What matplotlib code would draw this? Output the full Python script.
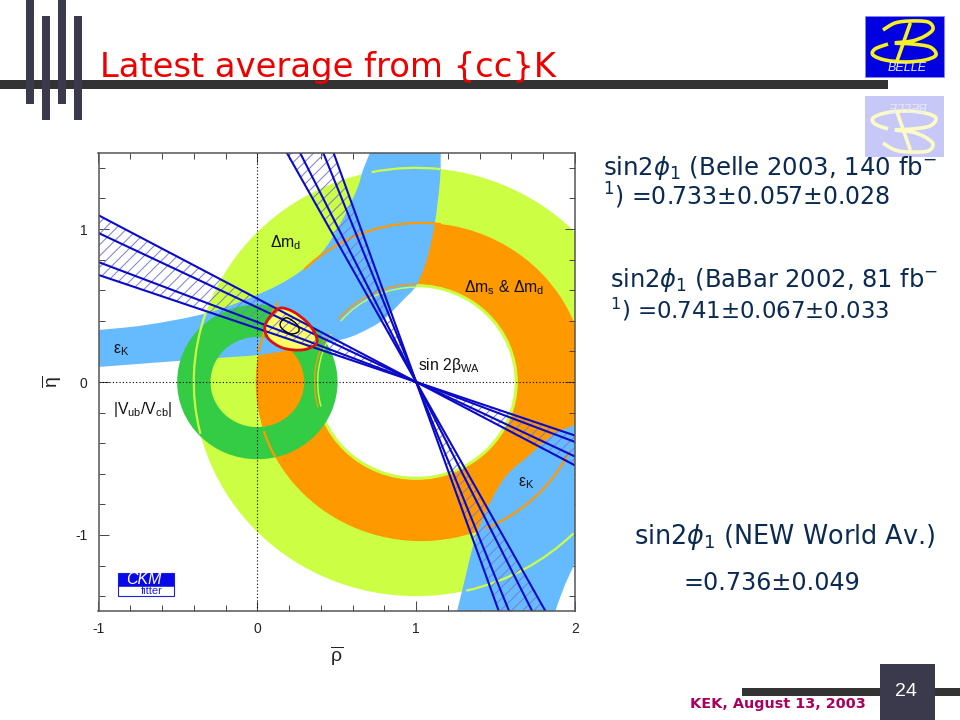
import numpy as np
import matplotlib
matplotlib.use("Agg")
import matplotlib.pyplot as plt
from matplotlib.patches import Circle, Wedge, Polygon, Rectangle, PathPatch, Arc
from matplotlib.path import Path

plt.rcParams['font.family'] = ['Liberation Sans', 'DejaVu Sans']
plt.rcParams['mathtext.fontset'] = 'custom'
plt.rcParams['mathtext.rm'] = 'Liberation Sans'
plt.rcParams['mathtext.it'] = 'Liberation Sans:italic'
plt.rcParams['mathtext.bf'] = 'Liberation Sans:bold'
plt.rcParams['hatch.linewidth'] = 0.7

# ---------- data ----------
CENTER = (1.0, 0.0)
DMD_OUTER = 1.40
DMS_CENTER = (1.03, 0.0)
DMS_OUTER = 1.04
RING_IN_OUTER = 0.64
RING_IN_INNER = 0.62
VUB_OUTER = 0.505
VUB_INNER = 0.295

eps_upper_rho = [-1.0, -0.70, -0.32, 0.0, 0.225, 0.40, 0.52, 0.625, 0.665, 0.71]
eps_upper_eta = [0.34, 0.373, 0.45, 0.57, 0.69, 0.84, 1.03, 1.255, 1.385, 1.5]
eps_lower_rho = [-1.0, -0.70, -0.28, 0.0, 0.205, 0.52, 0.645, 0.79, 0.917, 1.0, 1.067, 1.118, 1.15, 1.155]
eps_lower_eta = [0.098, 0.122, 0.155, 0.176, 0.21, 0.275, 0.32, 0.405, 0.535, 0.63, 0.80, 1.04, 1.32, 1.5]
eps2_left_rho = [1.257, 1.295, 1.37, 1.465, 1.57, 1.70, 1.86, 2.0]
eps2_left_eta = [-1.5, -1.34, -1.03, -0.79, -0.61, -0.49, -0.346, -0.28]
eps2_right_rho = [2.0, 1.935, 1.875]
eps2_right_eta = [-1.185, -1.33, -1.5]

shallow_slopes = [0.545, 0.487, 0.392, 0.35]
steep_slopes = [1.84, 2.05, 2.56, 2.88]

red_rho = [0.047, 0.08, 0.142, 0.225, 0.31, 0.362, 0.373, 0.31, 0.225, 0.142, 0.067]
red_eta = [0.36, 0.427, 0.483, 0.46, 0.394, 0.32, 0.255, 0.215, 0.21, 0.23, 0.287]
black_rho = [0.145, 0.185, 0.25, 0.26, 0.21, 0.155]
black_eta = [0.385, 0.42, 0.375, 0.33, 0.315, 0.35]

lime_arcs = [(83.8, 101.5), (161, 194), (283, 315)]
orange_arcs = [(83, 135), (150, 169), (198, 208), (293, 334)]
inner_arcs = [(90, 140), (150, 195)]

x_ticks = [-1, 0, 1, 2]
y_ticks = [-1, 0, 1]

LIME = '#ccff44'
ORANGE = '#ff9900'
BLUE = '#66bbff'
GREEN = '#33cc44'
NAVY = '#0a0ac8'
HATCH = '#7a7ad8'
TXT = '#0b2a52'
DARK = '#333333'
STRIPE = '#3a3a4c'


def bezier_segments(p, closed=False):
    """Cubic segments passing through every point p (Catmull-Rom handles)."""
    p = np.asarray(p, float)
    n = len(p)
    out = []
    last = n if closed else n - 1
    for i in range(last):
        a = p[(i - 1) % n] if (closed or i > 0) else p[i]
        b = p[i]
        c = p[(i + 1) % n]
        d = p[(i + 2) % n] if (closed or i + 2 < n) else c
        out += [b + (c - a) / 6, c - (d - b) / 6, c]
    return out


def closed_path(xs, ys):
    p = np.column_stack([xs, ys])
    seg = bezier_segments(p, closed=True)
    return Path([p[0]] + seg, [Path.MOVETO] + [Path.CURVE4] * len(seg))


def band_path(x1, y1, x2, y2):
    """Region between two smooth edges: edge 1 forward, straight join, edge 2 onward."""
    p1 = np.column_stack([x1, y1])
    p2 = np.column_stack([x2, y2])
    s1 = bezier_segments(p1)
    s2 = bezier_segments(p2)
    verts = [p1[0]] + s1 + [p2[0]] + s2 + [p1[0]]
    codes = [Path.MOVETO] + [Path.CURVE4] * len(s1) + [Path.LINETO] + [Path.CURVE4] * len(s2) + [Path.CLOSEPOLY]
    return Path(verts, codes)


fig = plt.figure(figsize=(9.6, 7.2), dpi=100, facecolor='white')

# ---------- slide furniture, in pixel coordinates ----------
ov = fig.add_axes([0, 0, 1, 1], zorder=0)
ov.set_xlim(0, 960)
ov.set_ylim(720, 0)
ov.axis('off')

ov.add_patch(Rectangle((0, 80), 888, 9, color=DARK, lw=0))
for x0, y0, y1 in [(26, 0, 104), (42, 16, 120), (58, 0, 104), (74, 16, 120)]:
    ov.add_patch(Rectangle((x0, y0), 8, y1 - y0, color=STRIPE, lw=0))
ov.text(100, 77, 'Latest average from {cc}K', color='#ee0000', fontsize=24.3,
        family='DejaVu Sans', ha='left', va='baseline')

# logos: the swooping B emblem and its faded reflection
logo_x = [883, 895, 910, 928, 933, 925, 912, 895, 912, 930, 936, 925, 905, 885, 873, 875, 888]
logo_y = [30, 23, 21, 22, 29, 36, 41, 43, 44, 47, 55, 60, 62, 60, 55, 49, 44]
stem_x = [910, 897]
stem_y = [24, 61]


def emblem(ys, stem, colour):
    p = np.column_stack([logo_x, ys])
    seg = bezier_segments(p)
    ov.add_patch(PathPatch(Path([p[0]] + seg, [Path.MOVETO] + [Path.CURVE4] * len(seg)),
                           facecolor='none', edgecolor=colour, lw=2.6))
    ov.plot(stem_x, stem, color=colour, lw=2.6, solid_capstyle='round')


ov.add_patch(Rectangle((865, 16), 79, 61, facecolor='#0000e0', edgecolor='#8888ff', lw=0.5))
emblem(logo_y, stem_y, '#f5f020')
ov.text(907, 68, 'BELLE', color='#e8e8ff', fontsize=9, style='italic', ha='center', va='center')
ov.add_patch(Rectangle((865, 96), 79, 61, facecolor='#c8c8f8', edgecolor='none'))
emblem([173 - y for y in logo_y], [173 - y for y in stem_y], '#fbfbc8')
ov.text(907, 105, 'BELLE', color='#e8e8ff', fontsize=9, style='italic', ha='center', va='center',
        rotation=180)

# footer
ov.add_patch(Rectangle((742, 688), 218, 8, color=DARK, lw=0))
ov.add_patch(Rectangle((880, 664), 55, 56, color=STRIPE, lw=0))
ov.text(906, 692, '24', color='white', fontsize=14, ha='center', va='center')
ov.text(690, 708, 'KEK, August 13, 2003', color='#a8005c', fontsize=10.4, weight='bold',
        family='DejaVu Sans', ha='left', va='baseline')


# right hand text
def body(x, y, s, size):
    ov.text(x, y, s, color=TXT, fontsize=size, family='DejaVu Sans',
            math_fontfamily='dejavusans', ha='left', va='baseline')


body(603, 175, 'sin2$\\phi_1$ (Belle 2003, 140 fb$^{-}$', 17.6)
body(603, 205, '$^{1}$) =0.733\u00b10.057\u00b10.028', 17.0)
body(610, 287, 'sin2$\\phi_1$ (BaBar 2002, 81 fb$^{-}$', 17.4)
body(610, 318, '$^{1}$) =0.741\u00b10.067\u00b10.033', 16.5)
body(634, 544, 'sin2$\\phi_1$ (NEW World Av.)', 18.4)
body(683, 590, '=0.736\u00b10.049', 17.2)

# ---------- the CKM plot ----------
ax = fig.add_axes([98.5 / 960, (720 - 611) / 720, 476.5 / 960, 458 / 720], zorder=1)
ax.set_xlim(-1, 2)
ax.set_ylim(-1.497, 1.497)

ax.add_patch(Circle(CENTER, DMD_OUTER, color=LIME, lw=0, zorder=1))
ax.add_patch(Circle(DMS_CENTER, DMS_OUTER, color=ORANGE, lw=0, zorder=1.1))
ax.add_patch(Circle(CENTER, RING_IN_OUTER, color=LIME, lw=0, zorder=1.2))
ax.add_patch(Circle(CENTER, RING_IN_INNER, color='white', lw=0, zorder=1.3))

# epsilon_K bands
ax.add_patch(PathPatch(band_path(eps_upper_rho, eps_upper_eta, eps_lower_rho[::-1], eps_lower_eta[::-1]),
                       facecolor=BLUE, edgecolor='none', zorder=2))
ax.add_patch(PathPatch(band_path(eps2_left_rho, eps2_left_eta, eps2_right_rho, eps2_right_eta),
                       facecolor=BLUE, edgecolor='none', zorder=2))

# Vub/Vcb ring
ax.add_patch(Wedge((0, 0), VUB_OUTER, 0, 360, width=VUB_OUTER - VUB_INNER,
                   color=GREEN, lw=0, zorder=3))

# thin contours crossing the bands
for t1, t2 in lime_arcs:
    ax.add_patch(Arc(CENTER, 2 * DMD_OUTER, 2 * DMD_OUTER, theta1=t1, theta2=t2,
                     color=LIME, lw=1.6, zorder=3.5))
for t1, t2 in orange_arcs:
    ax.add_patch(Arc(DMS_CENTER, 2 * DMS_OUTER, 2 * DMS_OUTER, theta1=t1, theta2=t2,
                     color=ORANGE, lw=1.6, zorder=3.5))
for t1, t2 in inner_arcs:
    ax.add_patch(Arc(CENTER, 2 * RING_IN_INNER, 2 * RING_IN_INNER, theta1=t1, theta2=t2,
                     color=LIME, lw=1.0, zorder=3.5))
    ax.add_patch(Arc(CENTER, 2 * RING_IN_OUTER, 2 * RING_IN_OUTER, theta1=t1, theta2=t2,
                     color=ORANGE, lw=1.0, zorder=3.5))

# global fit region
red_path = closed_path(red_rho, red_eta)
ax.add_patch(PathPatch(red_path, facecolor='#ffff66', edgecolor='none', zorder=4))


# sin 2 beta fans
def fan(slopes, far):
    s = [slopes[0], slopes[-1]]
    for side in (-1, 1):
        pts = [CENTER] + [far(m, side) for m in s]
        ax.add_patch(Polygon(pts, closed=True, facecolor='none', edgecolor=HATCH,
                             hatch='///', lw=0, zorder=4.5))
    for m in slopes:
        for side in (-1, 1):
            p = far(m, side)
            ax.plot([CENTER[0], p[0]], [CENTER[1], p[1]], color=NAVY, lw=1.5, zorder=5)


fan(shallow_slopes, lambda m, side: (1 + 2 * side if side < 0 else 2,
                                     2 * m if side < 0 else -m))
fan(steep_slopes, lambda m, side: (1 + side * 1.5 / m, -side * 1.5))

ax.add_patch(PathPatch(red_path, facecolor='none', edgecolor='#dd1111', lw=2.0, zorder=6))
ax.add_patch(PathPatch(closed_path(black_rho, black_eta), facecolor='none',
                       edgecolor='black', lw=1.0, zorder=6))

ax.axvline(0, color='black', ls=(0, (1, 2)), lw=0.8, zorder=7)
ax.axhline(0, color='black', ls=(0, (1, 2)), lw=0.8, zorder=7)

# ticks and frame
ax.set_xticks(x_ticks)
ax.set_yticks(y_ticks)
ax.set_xticklabels(['-1', '0', '1', '2'], fontsize=10)
ax.set_yticklabels(['-1', '0', '1'], fontsize=10)
ax.set_xticks(np.arange(-1, 2.01, 0.2), minor=True)
ax.set_yticks(np.arange(-1.4, 1.41, 0.2), minor=True)
ax.tick_params(which='major', direction='in', length=7, width=0.7, color='#444444',
               top=True, right=True, pad=8, labelcolor='#222222')
ax.tick_params(which='minor', direction='in', length=4, width=0.7, color='#444444',
               top=True, right=True)
for sp in ax.spines.values():
    sp.set_color('#555555')
    sp.set_linewidth(1.1)
    sp.set_zorder(8)
ax.set_xlabel(r'$\overline{\mathrm{\rho}}$', fontsize=14, labelpad=6, color='#222222')
ax.set_ylabel(r'$\overline{\mathrm{\eta}}$', fontsize=14, labelpad=8, color='#222222')

# in-plot labels
lab = dict(color='#111111', fontsize=11.3, ha='left', va='center', zorder=9)
ax.text(0.08, 0.91, r'$\Delta\mathrm{m_d}$', **lab)
ax.text(1.30, 0.62, r'$\Delta\mathrm{m_s}$ & $\Delta\mathrm{m_d}$', **lab)
ax.text(1.01, 0.105, r'sin 2$\mathrm{\beta_{WA}}$', **lab)
ax.text(-0.91, 0.21, r'$\mathrm{\varepsilon_K}$', **lab)
ax.text(1.64, -0.66, r'$\mathrm{\varepsilon_K}$', **lab)
ax.text(-0.91, -0.183, r'|V$_{\mathrm{ub}}$/V$_{\mathrm{cb}}$|', **lab)

# CKMfitter badge
ov2 = fig.add_axes([0, 0, 1, 1], zorder=2)
ov2.set_xlim(0, 960)
ov2.set_ylim(720, 0)
ov2.axis('off')
ov2.add_patch(Rectangle((118, 573), 56, 23, facecolor='white', edgecolor='#2020e0', lw=0.8))
ov2.add_patch(Rectangle((118, 573), 56, 13, facecolor='#0808e8', edgecolor='#2020e0', lw=0.5))
ov2.text(144, 580, 'CKM', color='white', fontsize=11.5, style='italic', ha='center', va='center')
ov2.text(152, 591, 'fitter', color='#2020e0', fontsize=8, ha='center', va='center')

fig.savefig('out.png', dpi=100)
